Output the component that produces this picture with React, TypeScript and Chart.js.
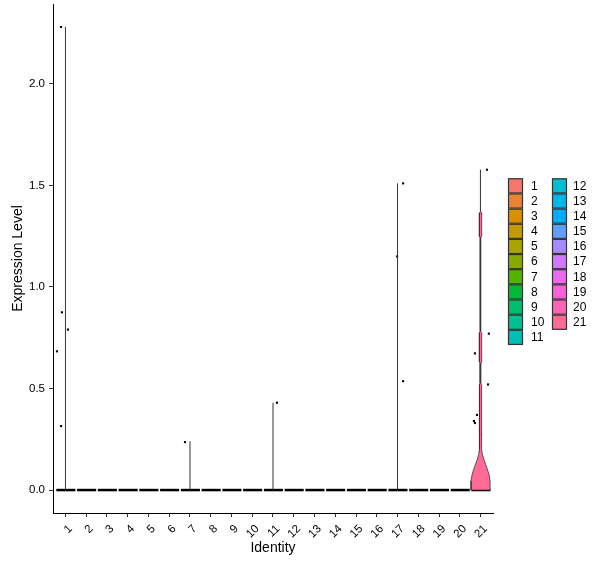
import React, { useEffect, useRef } from 'react';
import { Chart, registerables } from 'chart.js';

Chart.register(...registerables);

// ---------- data ----------
const categories = [1, 2, 3, 4, 5, 6, 7, 8, 9, 10, 11, 12, 13, 14, 15, 16, 17, 18, 19, 20, 21];
const tickLabels = ['1', '2', '3', '4', '5', '6', '7', '8', '9', '10', '11', '12', '13', '14', '15', '16', '17', '18', '19', '20', '21'];
const yTicks = [0, 0.5, 1.0, 1.5, 2.0];

// thin (near-degenerate) violins: category and max value
const lineCats = [1, 7, 11, 17];
const lineMax = [2.28, 0.24, 0.43, 1.51];

// violin of identity 21: density profile (value, half width in category units)
const violinCat = 21;
const violinY = [0, 0.045, 0.08, 0.12, 0.15, 0.18, 0.2, 0.23, 0.52, 0.525, 0.625, 0.63, 0.775, 0.78, 1.245, 1.25, 1.365, 1.37, 1.577];
const violinHalfWidth = [0.46, 0.46, 0.4, 0.27, 0.16, 0.08, 0.055, 0.05, 0.05, 0.02, 0.02, 0.055, 0.055, 0.015, 0.015, 0.055, 0.055, 0.012, 0.01];

// jittered non-zero cells (x = category + jitter)
const pointX = [0.79, 0.83, 1.12, 0.59, 0.79, 6.76, 11.19, 17.27, 16.98, 17.27, 21.31, 21.02, 20.97, 21.4, 20.73, 21.36, 20.83, 20.68, 20.73, 21.02, 20.97];
const pointY = [2.28, 0.875, 0.79, 0.683, 0.315, 0.236, 0.43, 1.51, 1.15, 0.536, 1.577, 1.36, 1.253, 0.77, 0.673, 0.52, 0.37, 0.34, 0.33, 0.275, 0.187];

// zero-valued cells: jitter extent around each category
const zeroJitterLeft = 0.44;
const zeroJitterRight = 0.48;

// ---------- palette (ggplot2 hue_pal) ----------
function hclHex(h: number, c = 100, l = 65): string {
  const hr = (h * Math.PI) / 180;
  const U = c * Math.cos(hr);
  const V = c * Math.sin(hr);
  const Xn = 95.047, Yn = 100, Zn = 108.883;
  const Y = Yn * (l > 8 ? Math.pow((l + 16) / 116, 3) : l / 903.3);
  const den = Xn + 15 * Yn + 3 * Zn;
  const un = (4 * Xn) / den, vn = (9 * Yn) / den;
  const u = U / (13 * l) + un;
  const v = V / (13 * l) + vn;
  const X = (9 * Y * u) / (4 * v);
  const Z = -X / 3 - 5 * Y + (3 * Y) / v;
  const x = X / 100, y = Y / 100, z = Z / 100;
  const lin = [
    3.240479 * x - 1.53715 * y - 0.498535 * z,
    -0.969256 * x + 1.875992 * y + 0.041556 * z,
    0.055648 * x - 0.204043 * y + 1.057311 * z,
  ];
  const hex = lin
    .map((t) => {
      let s = t <= 0.0031308 ? 12.92 * t : 1.055 * Math.pow(t, 1 / 2.4) - 0.055;
      s = Math.max(0, Math.min(1, s));
      return Math.round(s * 255).toString(16).padStart(2, '0');
    })
    .join('');
  return '#' + hex;
}
const colors = categories.map((_, i) => hclHex(15 + (360 * i) / categories.length));

const FONT = "'Liberation Sans', Arial, sans-serif";

const legendPlugin = {
  id: 'vlnLegend',
  afterDraw(chart: any) {
    const ctx = chart.ctx;
    const slot = 15.15;
    const top0 = 178.3;
    ctx.save();
    ctx.font = `12px ${FONT}`;
    ctx.textBaseline = 'middle';
    ctx.textAlign = 'left';
    tickLabels.forEach((lab, i) => {
      const col = i < 11 ? 0 : 1;
      const row = col ? i - 11 : i;
      const bx = col ? 552 : 508;
      const by = top0 + row * slot;
      ctx.fillStyle = colors[i];
      ctx.fillRect(bx, by, 15, slot);
      ctx.strokeStyle = '#333333';
      ctx.lineWidth = 1.2;
      ctx.strokeRect(bx + 0.5, by + 0.5, 14, slot - 1);
      ctx.fillStyle = '#000000';
      ctx.fillText(lab, col ? 573 : 531, by + slot / 2 + 0.5);
    });
    ctx.restore();
  },
};

export default function App() {
  const ref = useRef<HTMLCanvasElement | null>(null);

  useEffect(() => {
    if (!ref.current) return;
    const datasets: any[] = [];

    // violin 21 polygon
    const right = violinY.map((yv, i) => ({ x: violinCat + violinHalfWidth[i], y: yv }));
    const left = violinY.map((yv, i) => ({ x: violinCat - violinHalfWidth[i], y: yv })).reverse();
    const poly = [...right, ...left, right[0]];
    datasets.push({
      data: poly,
      showLine: true,
      fill: 'shape',
      backgroundColor: colors[violinCat - 1],
      borderColor: '#333333',
      borderWidth: 0.8,
      pointRadius: 0,
      tension: 0,
    });

    // thin violins
    lineCats.forEach((c, i) => {
      datasets.push({
        data: [
          { x: c, y: 0 },
          { x: c, y: lineMax[i] },
        ],
        showLine: true,
        borderColor: '#333333',
        borderWidth: 1,
        pointRadius: 0,
      });
    });

    // zero cells
    categories.forEach((c) => {
      datasets.push({
        data: [
          { x: c - zeroJitterLeft, y: 0 },
          { x: c + zeroJitterRight, y: 0 },
        ],
        showLine: true,
        borderColor: '#000000',
        borderWidth: 2.5,
        pointRadius: 0,
      });
    });

    // non-zero cells
    datasets.push({
      data: pointX.map((x, i) => ({ x, y: pointY[i] })),
      showLine: false,
      pointStyle: 'rect',
      pointRadius: 1.5,
      pointBorderWidth: 0,
      backgroundColor: '#000000',
      borderColor: '#000000',
    });

    const chart = new Chart(ref.current, {
      type: 'scatter',
      data: { datasets },
      plugins: [legendPlugin],
      options: {
        animation: false,
        responsive: false,
        devicePixelRatio: 1,
        layout: { padding: { top: 3, right: 107, left: 0, bottom: 0 } },
        plugins: { legend: { display: false }, tooltip: { enabled: false } },
        scales: {
          x: {
            type: 'linear',
            min: 0.4,
            max: 21.6,
            afterBuildTicks: (s: any) => {
              s.ticks = categories.map((v) => ({ value: v }));
            },
            afterFit: (s: any) => {
              s.height = 55;
              s.paddingLeft = 0;
              s.paddingRight = 0;
            },
            grid: { drawOnChartArea: false, drawTicks: true, tickLength: 4, color: '#333333', tickWidth: 1 },
            border: { display: true, color: '#000000', width: 1 },
            ticks: {
              autoSkip: false,
              minRotation: 45,
              maxRotation: 45,
              padding: 5,
              labelOffset: 5,
              color: '#000000',
              font: { family: FONT, size: 11.5 },
              callback: (v: any) => tickLabels[categories.indexOf(Number(v))] ?? '',
            },
            title: {
              display: true,
              text: 'Identity',
              color: '#000000',
              font: { family: FONT, size: 14 },
              padding: { bottom: 11.6, top: 0 },
            },
          },
          y: {
            type: 'linear',
            min: -0.113,
            max: 2.393,
            afterBuildTicks: (s: any) => {
              s.ticks = yTicks.map((v) => ({ value: v }));
            },
            afterFit: (s: any) => {
              s.width = 53;
              s.paddingTop = 0;
              s.paddingBottom = 0;
            },
            grid: { drawOnChartArea: false, drawTicks: true, tickLength: 4, color: '#333333', tickWidth: 1 },
            border: { display: true, color: '#000000', width: 1 },
            ticks: {
              padding: 4,
              color: '#000000',
              font: { family: FONT, size: 11.5 },
              callback: (v: any) => Number(v).toFixed(1),
            },
            title: {
              display: true,
              text: 'Expression Level',
              color: '#000000',
              font: { family: FONT, size: 14 },
              padding: { top: 9.6, bottom: 0 },
            },
          },
        },
      },
    } as any);

    return () => chart.destroy();
  }, []);

  return (
    <div style={{ position: 'absolute', left: 0, top: 0, width: 600, height: 568, background: '#ffffff' }}>
      <canvas ref={ref} width={600} height={568} style={{ width: 600, height: 568, display: 'block' }} />
    </div>
  );
}
